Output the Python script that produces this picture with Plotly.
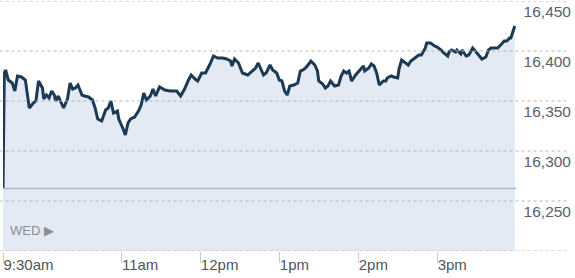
import plotly.graph_objects as go
import pandas as pd

# ---- data (DJIA intraday, Wed) ----
times = ["09:30","09:31","09:32","09:34","09:37","09:39","09:41","09:44","09:47","09:48",
         "09:50","09:53","09:55","09:57","10:00","10:01","10:03","10:05","10:07","10:09",
         "10:10","10:12","10:14","10:16","10:19","10:21","10:23","10:25","10:27","10:30",
         "10:32","10:35","10:38","10:40","10:42","10:45","10:48","10:50","10:52","10:54",
         "10:57","10:58","11:01","11:03","11:05","11:07","11:10","11:13","11:15","11:17",
         "11:19","11:22","11:24","11:26","11:29","11:33","11:37","11:41","11:42","11:45",
         "11:48","11:51","11:53","11:56","11:58","12:01","12:04","12:07","12:10","12:13",
         "12:17","12:20","12:23","12:24","12:26","12:29","12:32","12:36","12:39","12:42",
         "12:44","12:48","12:50","12:53","12:55","12:58","13:00","13:02","13:04","13:06",
         "13:08","13:11","13:14","13:16","13:18","13:20","13:23","13:24","13:27","13:29",
         "13:30","13:33","13:35","13:37","13:39","13:42","13:45","13:47","13:49","13:51",
         "13:53","13:55","13:58","14:01","14:04","14:05","14:08","14:10","14:12","14:14",
         "14:16","14:19","14:21","14:22","14:25","14:27","14:30","14:31","14:33","14:36",
         "14:38","14:40","14:43","14:46","14:48","14:51","14:52","14:55","14:58","15:00",
         "15:03","15:05","15:08","15:09","15:11","15:14","15:15","15:18","15:19","15:22",
         "15:24","15:27","15:29","15:31","15:34","15:37","15:39","15:41","15:44","15:46",
         "15:49","15:51","15:53","15:55","15:56","15:58","15:59"]
values = [16263,16378,16381,16371,16368,16360,16375,16374,16371,16363,
          16343,16348,16350,16370,16363,16352,16356,16353,16360,16356,
          16350,16355,16348,16343,16352,16368,16362,16363,16366,16356,
          16355,16354,16351,16343,16332,16330,16341,16343,16350,16338,
          16340,16332,16323,16316,16328,16332,16334,16340,16346,16358,
          16351,16355,16362,16355,16364,16361,16360,16360,16360,16355,
          16362,16371,16376,16372,16370,16378,16378,16386,16395,16393,
          16393,16392,16390,16385,16392,16388,16378,16376,16380,16383,
          16388,16376,16378,16386,16381,16378,16371,16370,16360,16356,
          16365,16366,16368,16380,16381,16383,16388,16390,16386,16380,
          16370,16367,16363,16365,16370,16365,16366,16375,16380,16378,
          16380,16370,16376,16381,16385,16380,16383,16387,16385,16378,
          16366,16370,16370,16373,16375,16374,16373,16382,16391,16388,
          16386,16390,16393,16396,16396,16403,16408,16408,16405,16404,
          16401,16398,16395,16399,16401,16399,16401,16397,16401,16395,
          16396,16403,16400,16397,16392,16394,16401,16403,16403,16403,
          16407,16410,16410,16413,16413,16421,16425]
prev_close = 16262.56
day = "2014-04-16"
x_tick_times = ["09:30", "11:00", "12:00", "13:00", "14:00", "15:00"]
x_tick_labels = ["9:30am", "11am", "12pm", "1pm", "2pm", "3pm"]
y_tick_vals = [16200, 16250, 16300, 16350, 16400, 16450]
y_tick_labels = ["", "16,250", "16,300", "16,350", "16,400", "16,450"]
day_label = "WED \u25B6"

xs = pd.to_datetime([f"{day} {t}" for t in times])
xtv = pd.to_datetime([f"{day} {t}" for t in x_tick_times])

FONT = "Arial, 'Liberation Sans', sans-serif"

fig = go.Figure()
fig.add_trace(go.Scatter(
    x=xs, y=values, mode="lines",
    line=dict(color="#1c3a54", width=3),
    fill="tozeroy", fillcolor="#e4eaf3",
    hoverinfo="skip", showlegend=False,
))

# dotted gridlines drawn above the filled area
for v in y_tick_vals:
    fig.add_shape(type="line", xref="paper", yref="y",
                  x0=-0.006, x1=0.9895, y0=v, y1=v,
                  line=dict(color="#b3b7bd", width=1, dash="dot"), layer="above")

fig.add_shape(type="line", xref="x", yref="y",
              x0=pd.Timestamp(f"{day} 09:30"), x1=pd.Timestamp(f"{day} 16:00"),
              y0=prev_close, y1=prev_close,
              line=dict(color="#a9b9c7", width=1.5), layer="above")

fig.add_annotation(text=day_label, xref="paper", yref="y",
                   x=0.009, y=16220.5, xanchor="left", yanchor="middle",
                   showarrow=False, font=dict(family=FONT, size=13, color="#8a8f96"))

fig.update_layout(
    width=575, height=278,
    margin=dict(l=3, r=1, t=1, b=27),
    paper_bgcolor="white", plot_bgcolor="white",
    xaxis=dict(
        type="date",
        range=[pd.Timestamp(f"{day} 09:30"), pd.Timestamp(f"{day} 16:44")],
        tickvals=xtv, ticktext=x_tick_labels,
        ticks="outside", ticklen=11, tickcolor="#c8ccd2", tickwidth=1,
        ticklabelposition="outside right",
        tickfont=dict(family=FONT, size=15, color="#50555c"),
        showgrid=False, zeroline=False, showline=False,
        fixedrange=True,
    ),
    yaxis=dict(
        range=[16200, 16450], side="right",
        tickvals=y_tick_vals, ticktext=y_tick_labels,
        ticklabelposition="inside bottom",
        tickfont=dict(family=FONT, size=15.5, color="#5a5f66"),
        showgrid=False, zeroline=False, showline=False, ticks="",
        fixedrange=True,
    ),
)

fig.write_html("out.html")
